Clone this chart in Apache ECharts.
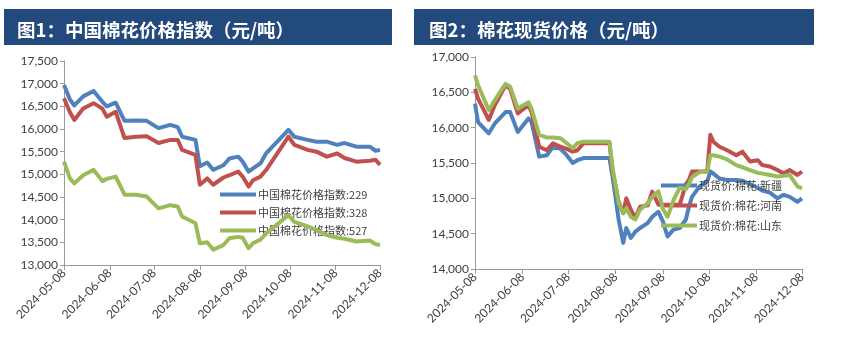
<!DOCTYPE html>
<html>
<head>
<meta charset="utf-8">
<script src="https://cdn.jsdelivr.net/npm/echarts@6/dist/echarts.min.js"></script>
<style>
  html, body { margin: 0; padding: 0; background: #fff; }
  #chart { width: 844px; height: 343px; }
</style>
</head>
<body>
<div id="chart"></div>
<script>
// ---- 图1：中国棉花价格指数 ----
const idxDates = ['2024-05-08','2024-05-12','2024-05-15','2024-05-21','2024-05-28','2024-06-03','2024-06-06','2024-06-12','2024-06-18','2024-06-26','2024-07-03','2024-07-11','2024-07-19','2024-07-24','2024-07-27','2024-08-05','2024-08-08','2024-08-13','2024-08-17','2024-08-24','2024-08-28','2024-09-03','2024-09-06','2024-09-10','2024-09-13','2024-09-18','2024-09-22','2024-10-07','2024-10-11','2024-10-20','2024-10-26','2024-11-02','2024-11-09','2024-11-14','2024-11-22','2024-12-01','2024-12-05','2024-12-08'];
const idx229 = [16970,16650,16520,16720,16840,16600,16500,16580,16180,16190,16180,16020,16090,16040,15830,15760,15180,15260,15100,15200,15350,15390,15280,15060,15130,15240,15470,15980,15830,15760,15720,15720,15650,15690,15610,15610,15520,15540];
const idx328 = [16680,16370,16200,16450,16570,16450,16270,16380,15800,15830,15840,15690,15760,15760,15540,15430,14770,14910,14770,14930,14980,15060,14950,14730,14870,14950,15100,15830,15650,15540,15500,15390,15460,15360,15280,15300,15320,15210];
const idx527 = [15280,14910,14800,14980,15100,14850,14900,14950,14550,14550,14510,14250,14320,14290,14070,13920,13480,13500,13340,13440,13590,13620,13600,13370,13480,13560,13700,14100,13950,13850,13770,13660,13600,13580,13520,13540,13460,13440];
const idxNames = ['中国棉花价格指数:229','中国棉花价格指数:328','中国棉花价格指数:527'];

// ---- 图2：棉花现货价格 ----
const spotDates = ['2024-05-08','2024-05-10','2024-05-17','2024-05-21','2024-05-28','2024-05-31','2024-06-05','2024-06-12','2024-06-14','2024-06-19','2024-06-24','2024-06-28','2024-07-03','2024-07-07','2024-07-11','2024-07-14','2024-07-18','2024-08-04','2024-08-06','2024-08-10','2024-08-13','2024-08-15','2024-08-18','2024-08-21','2024-08-24','2024-08-29','2024-09-01','2024-09-05','2024-09-08','2024-09-11','2024-09-15','2024-09-19','2024-09-23','2024-09-25','2024-09-27','2024-10-02','2024-10-07','2024-10-09','2024-10-11','2024-10-15','2024-10-20','2024-10-26','2024-10-30','2024-11-04','2024-11-09','2024-11-12','2024-11-17','2024-11-22','2024-11-26','2024-11-30','2024-12-05','2024-12-08'];
const spotXinjiang = [16340,16080,15920,16060,16220,16220,15940,16130,16080,15590,15610,15730,15700,15610,15500,15540,15570,15570,15310,14700,14370,14580,14440,14530,14580,14650,14740,14810,14670,14460,14560,14580,14700,14880,15020,15170,15240,15380,15350,15280,15260,15260,15250,15200,15150,15110,15080,15000,15050,15020,14950,15000];
const spotHenan = [16550,16410,16110,16320,16600,16550,16200,16320,16220,15730,15680,15780,15730,15700,15660,15680,15780,15780,15400,14950,14790,15000,14840,14720,14880,14900,15095,14910,14910,14910,14910,14910,15200,15260,15380,15380,15380,15900,15800,15730,15680,15610,15660,15520,15540,15470,15450,15400,15350,15400,15330,15380];
const spotShandong = [16740,16600,16250,16390,16620,16580,16270,16360,16270,15900,15860,15860,15850,15780,15710,15780,15800,15800,15430,14930,14790,14860,14740,14700,14840,14930,15020,15100,14850,14740,14980,15150,15130,15200,15300,15370,15380,15610,15610,15590,15550,15470,15440,15400,15360,15350,15330,15310,15320,15330,15170,15140];
const spotNames = ['现货价:棉花:新疆','现货价:棉花:河南','现货价:棉花:山东'];

const colors = ['#4F81BD', '#C0504D', '#9BBB59'];

// every calendar day between the first and last tick
function dayRange(start, end) {
  const out = [];
  const d = new Date(start + 'T00:00:00Z');
  const e = new Date(end + 'T00:00:00Z');
  while (d <= e) {
    out.push(d.toISOString().slice(0, 10));
    d.setUTCDate(d.getUTCDate() + 1);
  }
  return out;
}
const days = dayRange('2024-05-08', '2024-12-08');
const onTick = (i, v) => v.slice(8) === '08';

const axisColor = '#9a9a9a';
const labelColor = '#404040';
const fontFam = 'Lato, "Liberation Sans", sans-serif';

function xAxisFor(gridIndex) {
  return {
    type: 'category', gridIndex, data: days, boundaryGap: false,
    axisLine: { lineStyle: { color: axisColor, width: 1 } },
    axisTick: { show: true, interval: onTick, length: 5, lineStyle: { color: axisColor } },
    axisLabel: { interval: onTick, rotate: 45, margin: 6, color: labelColor, fontSize: 12, fontFamily: fontFam },
    splitLine: { show: false }
  };
}
function yAxisFor(gridIndex, min, max) {
  return {
    type: 'value', gridIndex, min, max, interval: 500,
    axisLine: { show: true, lineStyle: { color: axisColor, width: 1 } },
    axisTick: { show: true, length: 4, lineStyle: { color: axisColor } },
    axisLabel: { color: labelColor, fontSize: 12, fontFamily: fontFam, margin: 6,
      formatter: v => v.toLocaleString('en-US') },
    splitLine: { show: false }
  };
}
function lineSeries(name, dates, vals, axisIndex, color, z) {
  return {
    name, type: 'line', xAxisIndex: axisIndex, yAxisIndex: axisIndex,
    data: dates.map((d, i) => [d, vals[i]]),
    showSymbol: false, symbol: 'none', z,
    lineStyle: { color, width: 4, join: 'round' },
    itemStyle: { color },
    emphasis: { disabled: true }, animation: false
  };
}
function legendFor(names, left, top, gap) {
  return {
    orient: 'vertical', left, top, itemGap: gap,
    itemWidth: 36, itemHeight: 4, icon: 'rect',
    data: names,
    textStyle: { color: '#404040', fontSize: 11, fontFamily: '"Noto Sans CJK SC", sans-serif', padding: [0, 0, 0, -3] },
    selectedMode: false
  };
}

const chart = echarts.init(document.getElementById('chart'), null, { renderer: 'canvas' });
chart.setOption({
  animation: false,
  backgroundColor: '#ffffff',
  graphic: [
    { type: 'rect', shape: { x: 4, y: 9, width: 388, height: 36 }, style: { fill: '#234A7C' }, z: 0 },
    { type: 'rect', shape: { x: 414, y: 9, width: 400, height: 36 }, style: { fill: '#234A7C' }, z: 0 }
  ],
  title: [
    { text: '图1：中国棉花价格指数（元/吨）', left: 12, top: 16,
      textStyle: { color: '#ffffff', fontSize: 18.5, fontWeight: 'bold', fontFamily: '"Noto Sans CJK SC", sans-serif' } },
    { text: '图2：棉花现货价格（元/吨）', left: 424, top: 16,
      textStyle: { color: '#ffffff', fontSize: 18.5, fontWeight: 'bold', fontFamily: '"Noto Sans CJK SC", sans-serif' } }
  ],
  grid: [
    { left: 64, top: 61, width: 316, height: 204 },
    { left: 475, top: 57, width: 327, height: 212 }
  ],
  xAxis: [xAxisFor(0), xAxisFor(1)],
  yAxis: [yAxisFor(0, 13000, 17500), yAxisFor(1, 14000, 17000)],
  legend: [
    legendFor(idxNames, 215, 184, 7),
    legendFor(spotNames, 656, 175, 9)
  ],
  series: [
    lineSeries(idxNames[0], idxDates, idx229, 0, colors[0], 2),
    lineSeries(idxNames[1], idxDates, idx328, 0, colors[1], 3),
    lineSeries(idxNames[2], idxDates, idx527, 0, colors[2], 4),
    lineSeries(spotNames[0], spotDates, spotXinjiang, 1, colors[0], 2),
    lineSeries(spotNames[1], spotDates, spotHenan, 1, colors[1], 3),
    lineSeries(spotNames[2], spotDates, spotShandong, 1, colors[2], 4)
  ]
});
</script>
</body>
</html>
